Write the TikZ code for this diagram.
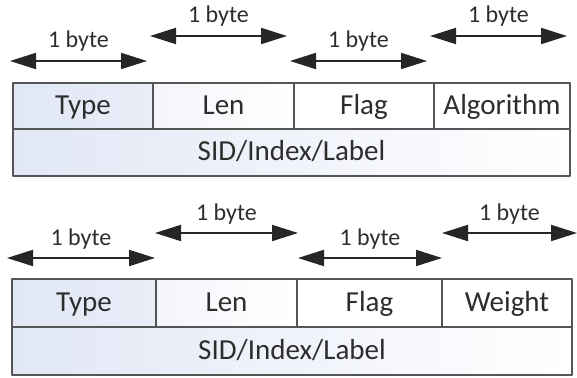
\documentclass[tikz,border=0pt]{standalone}
\usepackage{fontspec}
\setmainfont{Carlito}
\usetikzlibrary{arrows.meta}
\definecolor{cellblue}{RGB}{225,231,245}
\definecolor{rulegray}{RGB}{85,85,85}
\definecolor{ink}{RGB}{45,45,45}

\begin{document}
\begin{tikzpicture}[line cap=round,line join=round,>={Triangle[length=26pt,width=16pt]},x=1pt,y=-1pt,
  cell/.style={draw=rulegray,line width=1.5pt,inner sep=0pt,text=ink,text height=20pt,text depth=4pt,font=\fontsize{29}{32}\selectfont},
  span/.style={<->,line width=2pt,black!85},
  bytelabel/.style={font=\fontsize{24}{28}\selectfont,text=ink,inner sep=0pt,text height=16pt,text depth=4pt,yshift=19pt}]

\def\rowh{46} %row height

\useasboundingbox (0,0) rectangle (577,377);

%upper header
\node[cell,minimum width=140pt,minimum height=\rowh pt,left color=cellblue,right color=cellblue!75] (type1) at (83,106) {Type};
\node[cell,minimum width=141pt,minimum height=\rowh pt,left color=cellblue!40,right color=white] (len1) at (223.5,106) {Len};
\node[cell,minimum width=140pt,minimum height=\rowh pt,fill=white] (flag1) at (364,106) {Flag};
\node[cell,minimum width=136pt,minimum height=\rowh pt,fill=white] (algo1) at (502,106) {Algorithm};
\node[cell,minimum width=557pt,minimum height=47pt,left color=cellblue,right color=white] (sid1) at (291.5,152.5) {SID/Index/Label};

%upper byte marks
\coordinate (u1l) at (10,61); \coordinate (u1r) at (147,61);
\coordinate (u2l) at (150,36); \coordinate (u2r) at (287,36);
\coordinate (u3l) at (290,61); \coordinate (u3r) at (427,61);
\coordinate (u4l) at (430,36); \coordinate (u4r) at (567,36);
\draw[span] (u1l) -- node[bytelabel] {1 byte} (u1r);
\draw[span] (u2l) -- node[bytelabel] {1 byte} (u2r);
\draw[span] (u3l) -- node[bytelabel] {1 byte} (u3r);
\draw[span] (u4l) -- node[bytelabel] {1 byte} (u4r);

%lower header
\node[cell,minimum width=144pt,minimum height=48pt,left color=cellblue,right color=cellblue!75] (type2) at (84,303) {Type};
\node[cell,minimum width=141pt,minimum height=48pt,left color=cellblue!40,right color=white] (len2) at (226.5,303) {Len};
\node[cell,minimum width=145pt,minimum height=48pt,fill=white] (flag2) at (369.5,303) {Flag};
\node[cell,minimum width=130pt,minimum height=48pt,fill=white] (weight2) at (507,303) {Weight};
\node[cell,minimum width=560pt,minimum height=48pt,left color=cellblue,right color=white] (sid2) at (292,351) {SID/Index/Label};

%lower byte marks
\coordinate (d1l) at (7,258); \coordinate (d1r) at (155,258);
\coordinate (d2l) at (155,233); \coordinate (d2r) at (298,233);
\coordinate (d3l) at (298,258); \coordinate (d3r) at (442,258);
\coordinate (d4l) at (442,233); \coordinate (d4r) at (577,233);
\draw[span] (d1l) -- node[bytelabel] {1 byte} (d1r);
\draw[span] (d2l) -- node[bytelabel] {1 byte} (d2r);
\draw[span] (d3l) -- node[bytelabel] {1 byte} (d3r);
\draw[span] (d4l) -- node[bytelabel] {1 byte} (d4r);
\end{tikzpicture}
\end{document}
